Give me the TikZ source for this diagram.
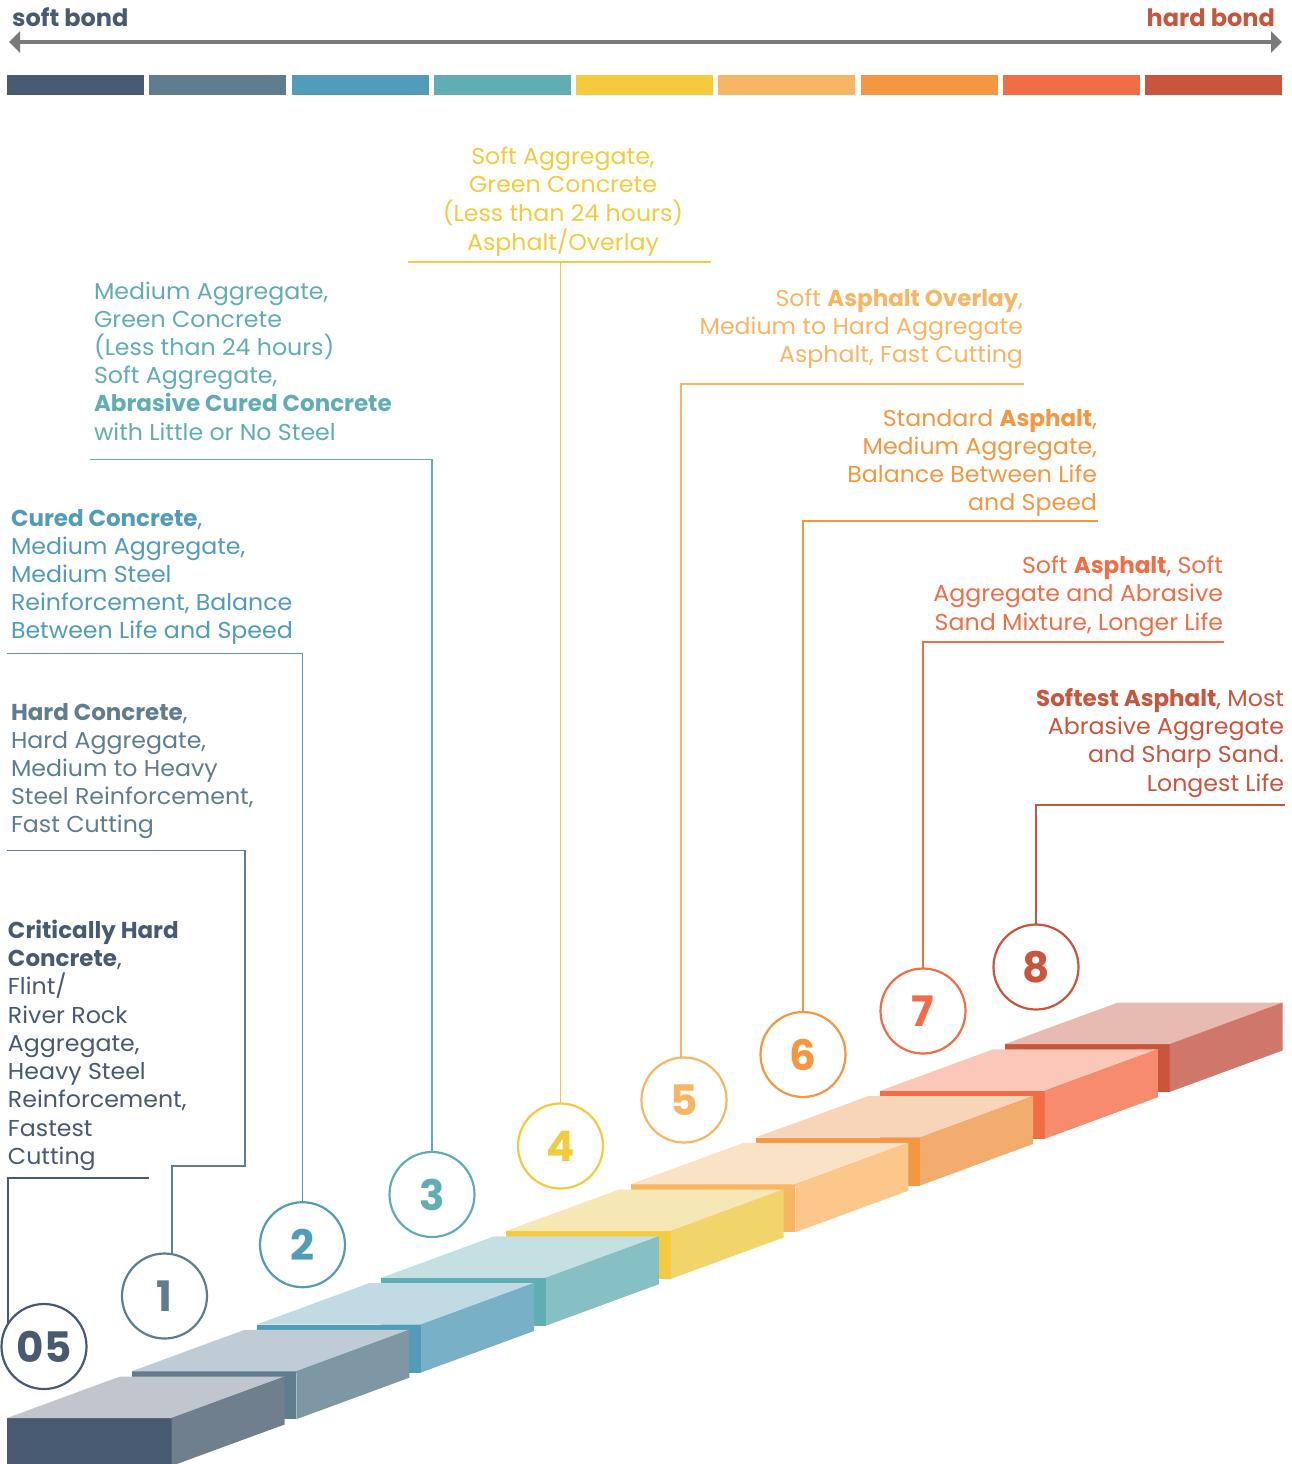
\documentclass[tikz,border=0pt]{standalone}
\usepackage{fontspec}
\setmainfont{Poppins}[UprightFeatures={FakeStretch=1.03}]
\usetikzlibrary{arrows.meta}
\definecolor{fr0}{HTML}{485A72}\definecolor{tp0}{HTML}{C1C6CE}\definecolor{sd0}{HTML}{6F7F8E}
\definecolor{fr1}{HTML}{5F7D8F}\definecolor{tp1}{HTML}{BFCCD5}\definecolor{sd1}{HTML}{7D98A4}
\definecolor{fr2}{HTML}{519CB8}\definecolor{tp2}{HTML}{C2DAE3}\definecolor{sd2}{HTML}{78B1C7}
\definecolor{fr3}{HTML}{60AEB4}\definecolor{tp3}{HTML}{C5E0E2}\definecolor{sd3}{HTML}{86C0C5}
\definecolor{fr4}{HTML}{F4CB3C}\definecolor{tp4}{HTML}{F5E8B4}\definecolor{sd4}{HTML}{F2D56A}
\definecolor{fr5}{HTML}{F8B665}\definecolor{tp5}{HTML}{FAE2C6}\definecolor{sd5}{HTML}{FCC78B}
\definecolor{fr6}{HTML}{F59741}\definecolor{tp6}{HTML}{F8D5B9}\definecolor{sd6}{HTML}{F2AC6D}
\definecolor{fr7}{HTML}{F26D45}\definecolor{tp7}{HTML}{FAC7B8}\definecolor{sd7}{HTML}{F68B6E}
\definecolor{fr8}{HTML}{C8553C}\definecolor{tp8}{HTML}{E7BBB2}\definecolor{sd8}{HTML}{D0776C}
\definecolor{arrowgray}{HTML}{7A7A7A}
\begin{document}
\begin{tikzpicture}[x=1pt,y=-1pt,
  txt/.style={inner sep=0pt, outer sep=0pt, font=\fontsize{23}{28}\selectfont},
  circ/.style={circle, draw, line width=2.2pt, minimum size=85pt, inner sep=0pt, outer sep=0pt, font=\fontsize{42}{42}\selectfont\bfseries},
  conn/.style={line width=1.6pt},
  toplabel/.style={inner sep=0pt, font=\fontsize{24}{24}\selectfont\bfseries}]
\useasboundingbox (0,0) rectangle (1292,1464);
\clip (0,0) rectangle (1292,1464);

% scale arrow and labels
\node[toplabel, text=fr0, anchor=base west] (soft) at (12,26.7) {soft bond};
\node[toplabel, text=fr8, anchor=base east] (hard) at (1275,26.7) {hard bond};
\coordinate (al) at (9,42);
\coordinate (ar) at (1282,42);
\draw[line width=4pt, arrowgray, {Triangle[length=11pt,width=21pt]}-{Triangle[length=11pt,width=21pt]}] (al) -- (ar);

% colour bars
\foreach \i in {0,...,8} \fill[fr\i] ({7+142.25*\i},75) rectangle ++(137,20);

% steps
\foreach \i in {8,7,6,5,4,3,2,1,0}{
  \pgfmathsetmacro{\xa}{7+124.75*\i}
  \pgfmathsetmacro{\ya}{1418-46.75*\i}
  \fill[fr\i] (\xa,\ya) rectangle ++(164.5,48);
  \fill[tp\i] (\xa,\ya) -- ++(164.5,0) -- ++(113,-41.5) -- ++(-164.5,0) -- cycle;
  \fill[sd\i] ({\xa+164.5},\ya) -- ++(113,-41.5) -- ++(0,48) -- ++(-113,41.5) -- cycle;
}

% circles
\node[circ, draw=fr0, text=fr0] (c0) at (44,1346.5) {05};
\node[circ, draw=fr1, text=fr1] (c1) at (164.5,1296) {1};
\node[circ, draw=fr2, text=fr2] (c2) at (302.5,1244.7) {2};
\node[circ, draw=fr3, text=fr3] (c3) at (432,1194.5) {3};
\node[circ, draw=fr4, text=fr4] (c4) at (560.5,1146) {4};
\node[circ, draw=fr5, text=fr5] (c5) at (684,1100) {5};
\node[circ, draw=fr6, text=fr6] (c6) at (803,1054.5) {6};
\node[circ, draw=fr7, text=fr7] (c7) at (923,1011) {7};
\node[circ, draw=fr8, text=fr8] (c8) at (1036,967) {8};

% connector end points
\coordinate (e0) at (149,1178);
\coordinate (e1a) at (245,1166);
\coordinate (e1b) at (245,850.5);
\coordinate (e1c) at (7,850.5);
\coordinate (e2) at (7,653.5);
\coordinate (e3) at (90,459.3);
\coordinate (e4l) at (408,262);
\coordinate (e4r) at (711,262);
\coordinate (e5) at (1024,384);
\coordinate (e6) at (1098,521);
\coordinate (e7) at (1224,642);
\coordinate (e8) at (1285,805);

\draw[conn, fr0] (c0.148) |- (e0);
\draw[conn, fr1] (c1.80) |- (e1a) -- (e1b) -- (e1c);
\draw[conn, fr2] (c2.north) |- (e2);
\draw[conn, fr3] (c3.north) |- (e3);
\draw[conn, fr4] (e4l) -- (e4r);
\draw[conn, fr4] (c4.north) -- (c4.north |- e4l);
\draw[conn, fr5] (c5.94) |- (e5);
\draw[conn, fr6] (c6.north) |- (e6);
\draw[conn, fr7] (c7.north) |- (e7);
\draw[conn, fr8] (c8.north) |- (e8);

% text blocks
\foreach \t [count=\k from 0] in {{\textbf{Critically Hard}},{\textbf{Concrete},},{Flint/},{River Rock},{Aggregate,},{Heavy Steel},{Reinforcement,},{Fastest},{Cutting}}
  \node[txt, text=fr0, anchor=base west] (b0-\k) at (8,{938.3+28.25*\k}) {\t};
\foreach \t [count=\k from 0] in {{\textbf{Hard Concrete},},{Hard Aggregate,},{Medium to Heavy},{Steel Reinforcement,},{Fast Cutting}}
  \node[txt, text=fr1, anchor=base west] (b1-\k) at (11,{720+28.2*\k}) {\t};
\foreach \t [count=\k from 0] in {{\textbf{Cured Concrete},},{Medium Aggregate,},{Medium Steel},{Reinforcement, Balance},{Between Life and Speed}}
  \node[txt, text=fr2, anchor=base west] (b2-\k) at (11,{526+28.2*\k}) {\t};
\foreach \t [count=\k from 0] in {{Medium Aggregate,},{Green Concrete},{(Less than 24 hours)},{Soft Aggregate,},{\textbf{Abrasive Cured Concrete}},{with Little or No Steel}}
  \node[txt, text=fr3, anchor=base west] (b3-\k) at (94,{299.3+28.15*\k}) {\t};
\foreach \t [count=\k from 0] in {{Soft Aggregate,},{Green Concrete},{(Less than 24 hours)},{Asphalt/Overlay}}
  \node[txt, text=fr4, anchor=base] (b4-\k) at (563,{164.3+28.6*\k}) {\t};
\foreach \t [count=\k from 0] in {{Soft \textbf{Asphalt Overlay},},{Medium to Hard Aggregate},{Asphalt, Fast Cutting}}
  \node[txt, text=fr5, anchor=base east] (b5-\k) at (1023,{306.7+28*\k}) {\t};
\foreach \t [count=\k from 0] in {{Standard \textbf{Asphalt},},{Medium Aggregate,},{Balance Between Life},{and Speed}}
  \node[txt, text=fr6, anchor=base east] (b6-\k) at (1097,{426+28*\k}) {\t};
\foreach \t [count=\k from 0] in {{Soft \textbf{Asphalt}, Soft},{Aggregate and Abrasive},{Sand Mixture, Longer Life}}
  \node[txt, text=fr7, anchor=base east] (b7-\k) at (1223,{573.3+28.35*\k}) {\t};
\foreach \t [count=\k from 0] in {{\textbf{Softest Asphalt}, Most},{Abrasive Aggregate},{and Sharp Sand.},{Longest Life}}
  \node[txt, text=fr8, anchor=base east] (b8-\k) at (1284,{706+28.4*\k}) {\t};
\end{tikzpicture}
\end{document}
